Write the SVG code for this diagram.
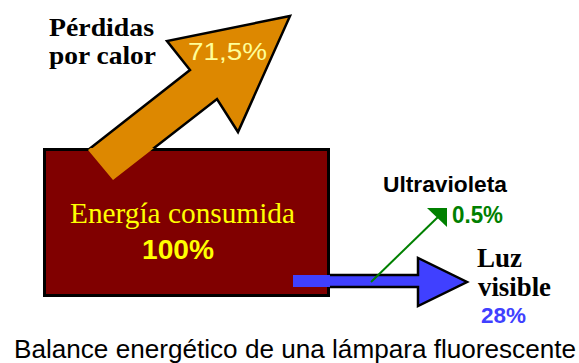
<svg xmlns="http://www.w3.org/2000/svg" width="579" height="363" viewBox="0 0 579 363">
<style>
.serif{font-family:"Liberation Serif","DejaVu Serif",serif}
.sans{font-family:"Liberation Sans","DejaVu Sans",sans-serif}
.outline{fill:none;stroke:#000;stroke-width:2.5;stroke-linejoin:miter}
</style>
<defs>
<clipPath id="aboveRect"><rect x="0" y="0" width="579" height="148"/></clipPath>
<clipPath id="rightOfRect"><rect x="330" y="0" width="249" height="363"/></clipPath>
</defs>
<rect width="579" height="363" fill="#fff"/>
<g id="consumo">
<rect x="44.5" y="149.5" width="284" height="146" fill="#800000" stroke="#000" stroke-width="3"/>
<text class="serif" x="70" y="223" font-size="29" fill="#ffff00" textLength="225" lengthAdjust="spacingAndGlyphs">Energía consumida</text>
<text class="sans" x="142" y="259" font-size="28" font-weight="bold" fill="#ffff00" textLength="72" lengthAdjust="spacingAndGlyphs">100%</text>
</g>
<g id="connectors">
<g id="calor-arrow">
<polygon points="88,150 190,70 167,41 290,16 238,132 217,99 113,180" fill="#dd8800"/>
<polygon class="outline" points="88,150 190,70 167,41 290,16 238,132 217,99 113,180" clip-path="url(#aboveRect)"/>
</g>
<g id="luz-arrow">
<polygon points="293,275 418,275 418,258 467,282 418,306 418,287 293,287" fill="#4040ff"/>
<polygon class="outline" points="293,275 418,275 418,258 467,282 418,306 418,287 293,287" clip-path="url(#rightOfRect)"/>
</g>
<g id="uv-arrow">
<line x1="371" y1="282" x2="440" y2="215" stroke="#008000" stroke-width="2"/>
<polygon points="427,208 447,208 447,227" fill="#008000"/>
</g>
</g>
<g id="calor">
<text class="serif" x="49" y="36" font-size="25" font-weight="bold" fill="#000" textLength="105" lengthAdjust="spacingAndGlyphs">Pérdidas</text>
<text class="serif" x="49" y="64" font-size="25" font-weight="bold" fill="#000" textLength="107" lengthAdjust="spacingAndGlyphs">por calor</text>
<text class="sans" x="188" y="60" font-size="24" fill="#ffff99" textLength="79" lengthAdjust="spacingAndGlyphs">71,5%</text>
</g>
<g id="ultravioleta">
<text class="sans" x="383" y="192" font-size="22" font-weight="bold" fill="#000" textLength="124" lengthAdjust="spacingAndGlyphs">Ultravioleta</text>
<text class="sans" x="452" y="223" font-size="23" font-weight="bold" fill="#008000" textLength="51" lengthAdjust="spacingAndGlyphs">0.5%</text>
</g>
<g id="luz">
<text class="serif" x="477" y="267" font-size="28" font-weight="bold" fill="#000" textLength="45" lengthAdjust="spacingAndGlyphs">Luz</text>
<text class="serif" x="478" y="296" font-size="28" font-weight="bold" fill="#000" textLength="73" lengthAdjust="spacingAndGlyphs">visible</text>
<text class="sans" x="481" y="323" font-size="22" font-weight="bold" fill="#4040ff" textLength="45" lengthAdjust="spacingAndGlyphs">28%</text>
</g>
<text class="sans" x="14" y="358" font-size="25" fill="#000" textLength="562" lengthAdjust="spacingAndGlyphs">Balance energético de una lámpara fluorescente</text>
</svg>
